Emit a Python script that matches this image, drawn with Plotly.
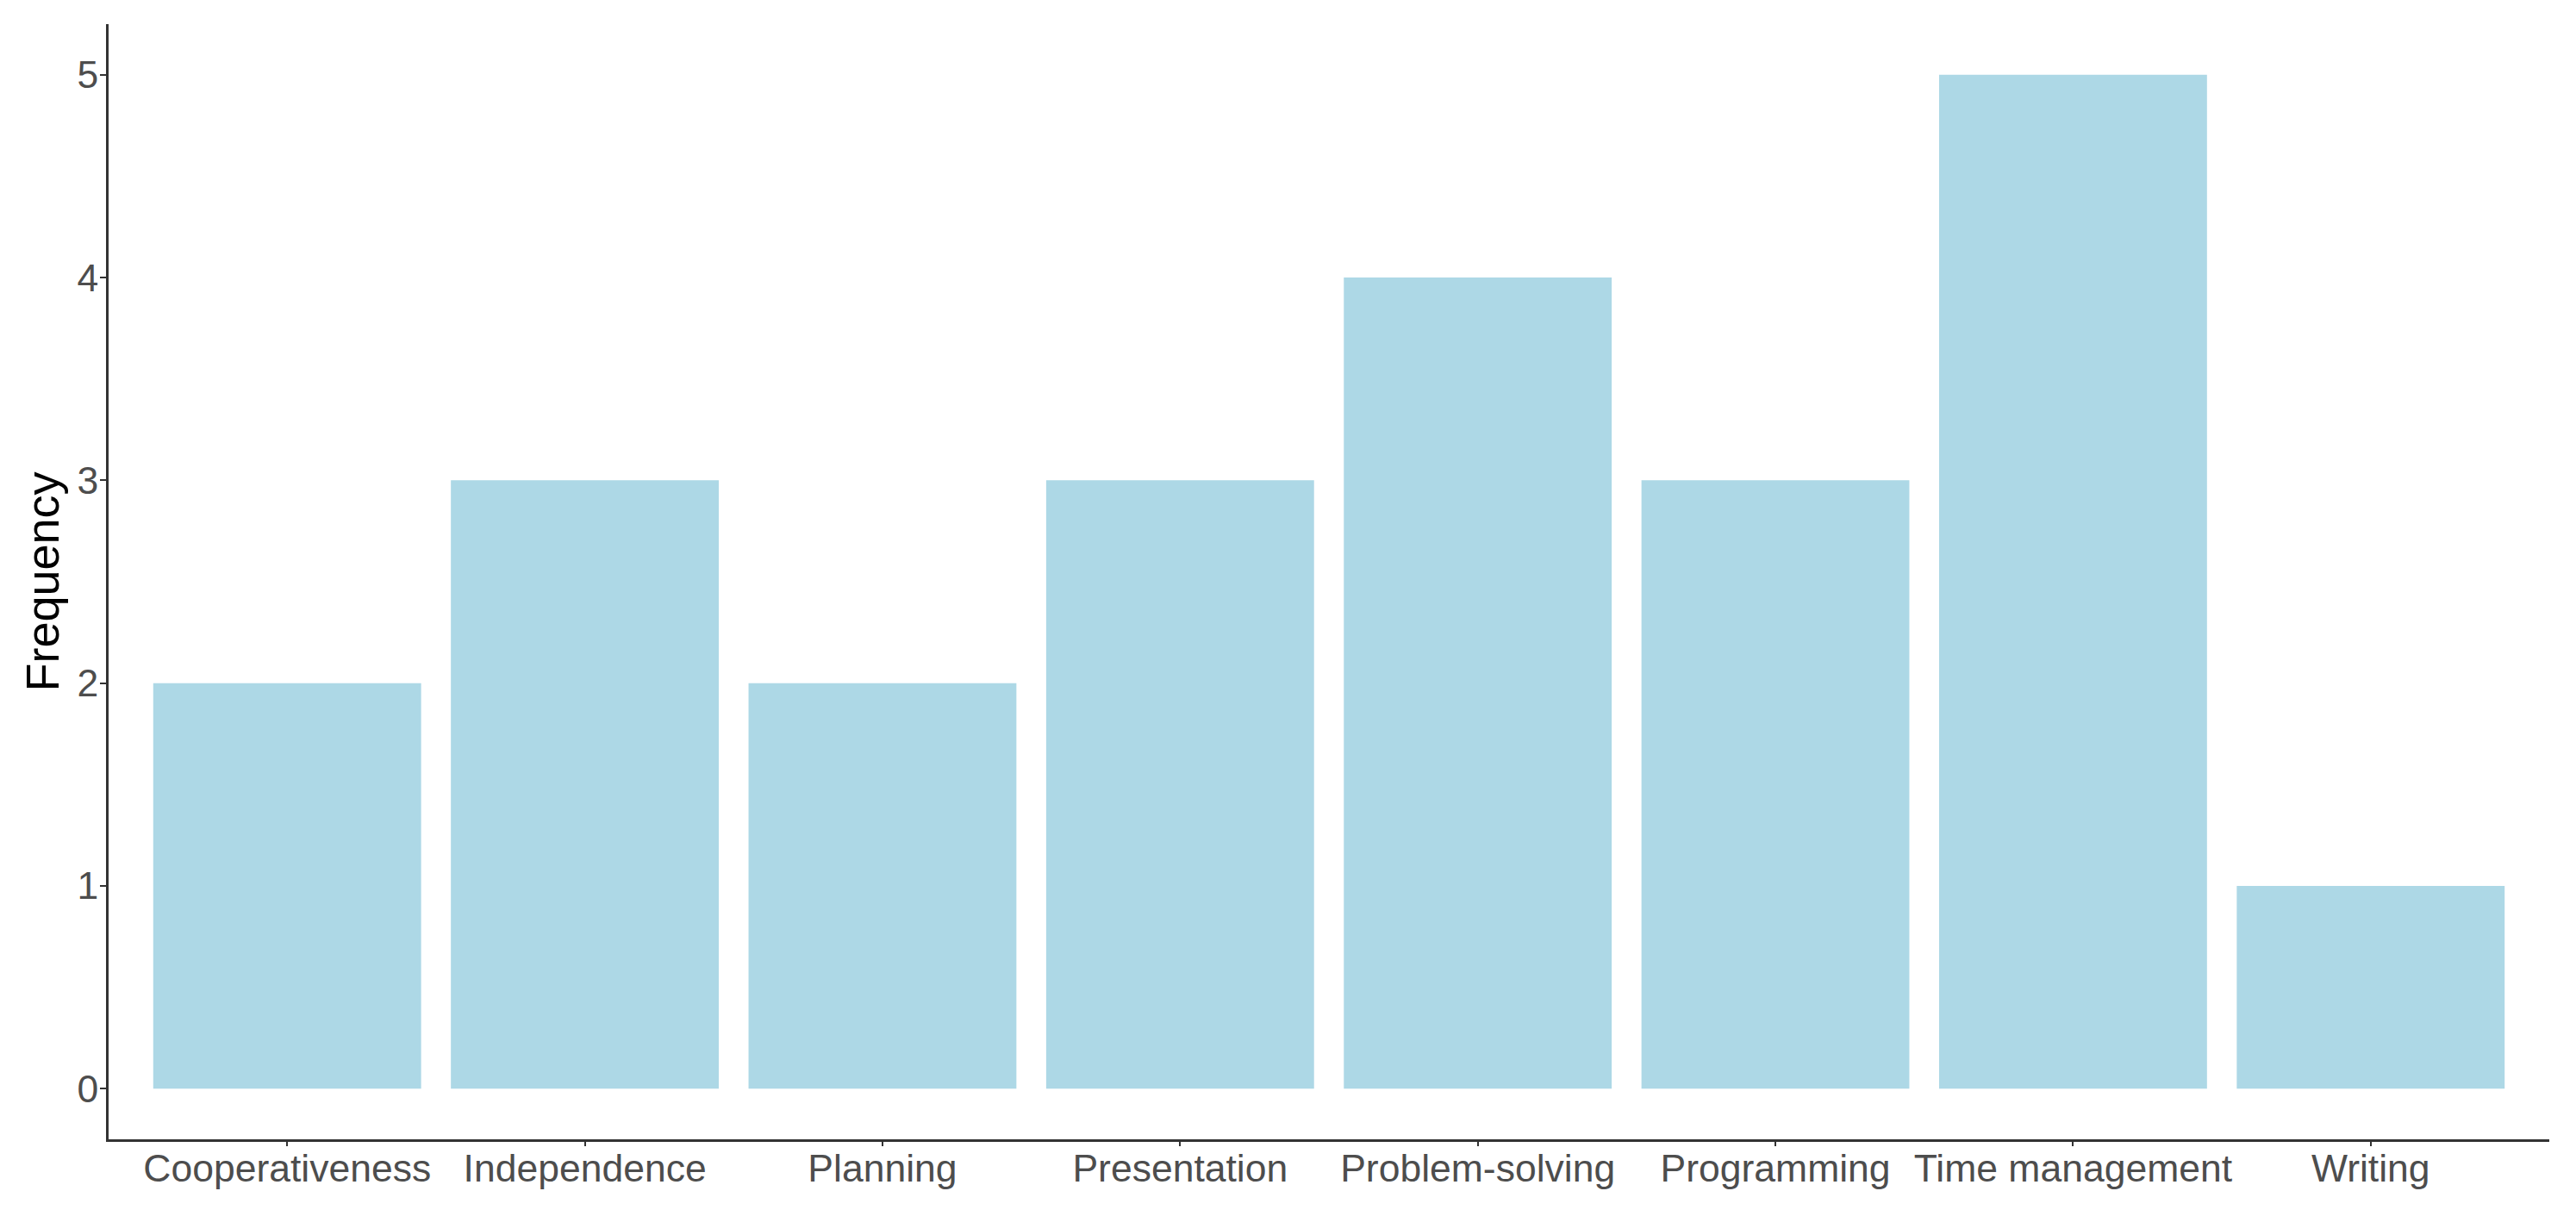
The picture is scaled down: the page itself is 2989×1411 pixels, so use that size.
import plotly.graph_objects as go

categories = ["Cooperativeness", "Independence", "Planning", "Presentation",
              "Problem-solving", "Programming", "Time management", "Writing"]
frequency = [2, 3, 2, 3, 4, 3, 5, 1]
y_ticks = [0, 1, 2, 3, 4, 5]

fig = go.Figure(go.Bar(
    x=categories, y=frequency,
    marker=dict(color="#ADD8E6", line=dict(width=0)),
    width=0.9,
))

axis_font = dict(family="Liberation Sans, Arial, sans-serif", size=44.5, color="#4d4d4d")
# page body has an 8px default margin, so the figure is sized 8px smaller
fig.update_layout(
    width=2981, height=1403,
    margin=dict(l=118, r=31, t=20, b=89, autoexpand=False),
    plot_bgcolor="white", paper_bgcolor="white",
    showlegend=False,
    bargap=0.1,
)
fig.update_xaxes(
    type="category", range=[-0.6, 7.6],
    showline=True, linecolor="#333333", linewidth=2.5,
    ticks="outside", ticklen=5, tickwidth=2, tickcolor="#333333",
    ticklabelstandoff=-12,
    tickfont=axis_font, showgrid=False, zeroline=False,
)
fig.update_yaxes(
    range=[-0.25, 5.25], tickvals=y_ticks,
    showline=True, linecolor="#333333", linewidth=2.5,
    ticks="outside", ticklen=7, tickwidth=2, tickcolor="#333333",
    ticklabelstandoff=-7,
    tickfont=axis_font, showgrid=False, zeroline=False,
    title=dict(text="Frequency", font=dict(family="Liberation Sans, Arial, sans-serif",
                                            size=54, color="black"), standoff=4),
)

fig.write_html("out.html")
